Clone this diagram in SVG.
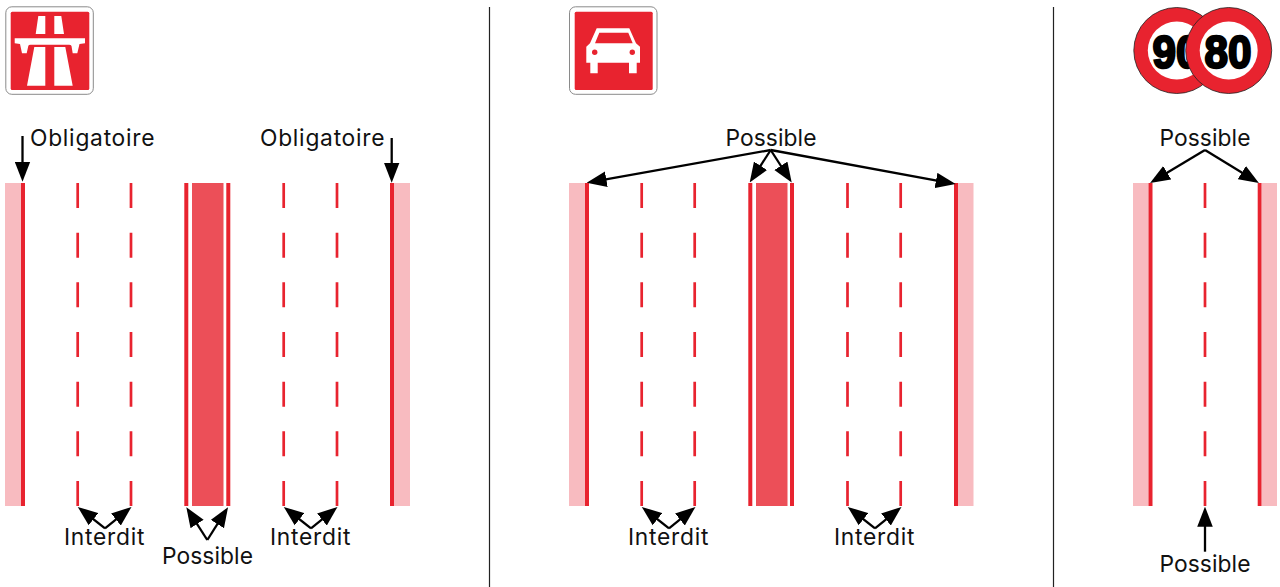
<svg xmlns="http://www.w3.org/2000/svg" width="1280" height="587" viewBox="0 0 1280 587">
<style>
.bg{fill:#fff}
.frame{fill:#fff;stroke:#8a8a8a;stroke-width:1}
.red{fill:#e8232f}
.pink{fill:#f8bbc0}
.mid{fill:#ec4f58}
.wh{fill:#fff}
.dash{stroke:#e8232f;stroke-width:2.7;stroke-dasharray:25 24.67;fill:none}
.div{stroke:#222;stroke-width:1.2;fill:none}
.arr{stroke:#000;stroke-width:2.3;fill:none;marker-end:url(#head)}
.lbl{font-family:"Inter","Liberation Sans",sans-serif;font-size:22.8px;fill:#111}
.ring{fill:#e8232f;stroke:#222;stroke-width:.8}
.num{font-family:"Liberation Sans",Arial,sans-serif;font-weight:bold;font-size:47px;fill:#000;stroke:#000;stroke-width:2.4}
</style>
<defs>
<marker id="head" markerUnits="userSpaceOnUse" markerWidth="20" markerHeight="16" viewBox="0 0 18 14" refX="12" refY="7" orient="auto"><path d="M0 0L18 7L0 14Z" fill="#000"/></marker>
</defs>
<rect class="bg" width="1280" height="587"/>
<g id="dividers">
<line class="div" x1="489.5" y1="7" x2="489.5" y2="587"/>
<line class="div" x1="1053.5" y1="7" x2="1053.5" y2="587"/>
</g>
<g id="sign-motorway">
<rect class="frame" x="5.8" y="6.8" width="87.5" height="87.5" rx="6"/>
<rect class="red" x="10.7" y="11.7" width="78.6" height="78.3" rx="1.5"/>
<path class="wh" d="M38.3 16H45.3V34H35.7ZM54.3 16H61.3L64 34H54.3ZM14.7 38.3H85V43.3L79.5 44L77.3 53.3H72.7L71.5 46Q71 44.7 69 44.7H30.5Q28.5 44.7 28.3 46L26.7 53.3H22L20 44L14.7 43.3ZM34.3 47H45.3V85.7H27ZM54.3 47H65.3L72.7 85.7H54.3Z"/>
</g>
<g id="sign-expressway">
<rect class="frame" x="569.5" y="6.8" width="87.5" height="87.5" rx="6"/>
<rect class="red" x="574.7" y="11.7" width="78" height="78.3" rx="1.5"/>
<path class="wh" d="M596.7 28.3H629.3L636 43.3L640 46.7V62.7H636.7V73.3H629V62.7H597.7V73.3H590.3V62.7H586.3V46.7L590 43.3Z"/>
<path class="red" d="M599.3 32.7H628.3L632.7 43.3H595Z"/>
<circle class="red" cx="594.7" cy="52.3" r="2.7"/>
<circle class="red" cx="632.3" cy="52.3" r="2.7"/>
</g>
<g id="sign-90">
<circle class="ring" cx="1176.8" cy="50.5" r="43"/>
<circle class="wh" cx="1176.8" cy="50.5" r="29"/>
<text class="num" x="1176" y="67.5" text-anchor="middle" textLength="47" lengthAdjust="spacingAndGlyphs">90</text>
</g>
<g id="sign-80">
<circle class="ring" cx="1228.7" cy="50.5" r="43"/>
<circle class="wh" cx="1228.7" cy="50.5" r="29"/>
<text class="num" x="1228" y="67.5" text-anchor="middle" textLength="47" lengthAdjust="spacingAndGlyphs">80</text>
</g>
<g id="road-motorway">
<rect class="pink" x="5" y="183" width="16" height="323"/>
<rect class="red" x="21" y="183" width="4" height="323"/>
<line class="dash" x1="77.7" y1="183" x2="77.7" y2="506"/>
<line class="dash" x1="131" y1="183" x2="131" y2="506"/>
<rect class="red" x="184.3" y="183" width="4" height="323"/>
<rect class="mid" x="192" y="183" width="31.5" height="323"/>
<rect class="red" x="226.3" y="183" width="4" height="323"/>
<line class="dash" x1="283.7" y1="183" x2="283.7" y2="506"/>
<line class="dash" x1="337" y1="183" x2="337" y2="506"/>
<rect class="red" x="390" y="183" width="4" height="323"/>
<rect class="pink" x="394" y="183" width="16" height="323"/>
</g>
<g id="road-expressway">
<rect class="pink" x="569" y="183" width="16" height="323"/>
<rect class="red" x="585" y="183" width="4" height="323"/>
<line class="dash" x1="641.7" y1="183" x2="641.7" y2="506"/>
<line class="dash" x1="694.7" y1="183" x2="694.7" y2="506"/>
<rect class="red" x="748.3" y="183" width="4" height="323"/>
<rect class="mid" x="756" y="183" width="31.5" height="323"/>
<rect class="red" x="790" y="183" width="4" height="323"/>
<line class="dash" x1="847.5" y1="183" x2="847.5" y2="506"/>
<line class="dash" x1="900.7" y1="183" x2="900.7" y2="506"/>
<rect class="red" x="954" y="183" width="4" height="323"/>
<rect class="pink" x="958" y="183" width="15.5" height="323"/>
</g>
<g id="road-secondary">
<rect class="pink" x="1133" y="183" width="15.5" height="323"/>
<rect class="red" x="1148.5" y="183" width="4" height="323"/>
<line class="dash" x1="1205" y1="183" x2="1205" y2="506"/>
<rect class="red" x="1257.7" y="183" width="4" height="323"/>
<rect class="pink" x="1261.7" y="183" width="15.3" height="323"/>
</g>
<g id="connectors">
<line class="arr" x1="22.5" y1="136" x2="22.5" y2="175"/>
<line class="arr" x1="391.7" y1="138" x2="391.7" y2="176"/>
<line class="arr" x1="770.7" y1="150" x2="593.2" y2="181.6"/>
<line class="arr" x1="770.7" y1="150" x2="753.3" y2="177"/>
<line class="arr" x1="770.7" y1="150" x2="788.1" y2="177"/>
<line class="arr" x1="770.7" y1="150" x2="949.1" y2="182.9"/>
<line class="arr" x1="1205" y1="150" x2="1155.8" y2="179.6"/>
<line class="arr" x1="1205" y1="150" x2="1253.2" y2="179.6"/>
<line class="arr" x1="105" y1="528.3" x2="83" y2="511"/>
<line class="arr" x1="105" y1="528.3" x2="126.3" y2="511.1"/>
<line class="arr" x1="311" y1="528.3" x2="289" y2="511"/>
<line class="arr" x1="311" y1="528.3" x2="332.3" y2="511.1"/>
<line class="arr" x1="669" y1="528.3" x2="647" y2="511"/>
<line class="arr" x1="669" y1="528.3" x2="690.3" y2="511.1"/>
<line class="arr" x1="875" y1="528.3" x2="853" y2="511"/>
<line class="arr" x1="875" y1="528.3" x2="896.3" y2="511.1"/>
<line class="arr" x1="207.3" y1="540" x2="189.9" y2="512.8"/>
<line class="arr" x1="207.3" y1="540" x2="224.5" y2="512.8"/>
<line class="arr" x1="1205" y1="551.7" x2="1205" y2="513.3"/>
</g>
<g id="labels">
<text class="lbl" x="30" y="145.5" textLength="124.5">Obligatoire</text>
<text class="lbl" x="260" y="145.5" textLength="124.5">Obligatoire</text>
<text class="lbl" x="725.5" y="145.5" textLength="91">Possible</text>
<text class="lbl" x="1159.5" y="145.5" textLength="91">Possible</text>
<text class="lbl" x="64" y="545" textLength="80.5">Interdit</text>
<text class="lbl" x="270" y="545" textLength="80.5">Interdit</text>
<text class="lbl" x="628" y="545" textLength="80.5">Interdit</text>
<text class="lbl" x="834" y="545" textLength="80.5">Interdit</text>
<text class="lbl" x="162" y="564" textLength="91">Possible</text>
<text class="lbl" x="1159.5" y="572.3" textLength="91">Possible</text>
</g>
</svg>
